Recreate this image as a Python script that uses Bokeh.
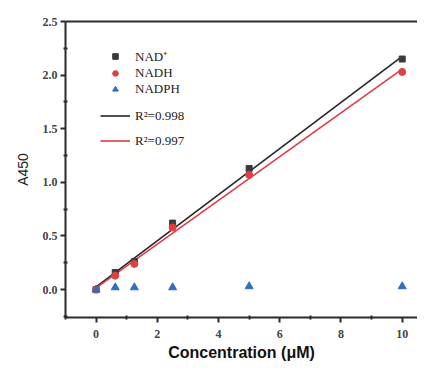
import numpy as np
from bokeh.plotting import figure
from bokeh.models import Range1d, LinearAxis, Legend, LegendItem, FixedTicker
from bokeh.embed import file_html
from bokeh.resources import INLINE

conc = [0, 0.625, 1.25, 2.5, 5, 10]
nad_plus = [0.0, 0.16, 0.26, 0.62, 1.13, 2.15]
nadh = [0.0, 0.13, 0.24, 0.58, 1.07, 2.03]
nadph = [0.0, 0.02, 0.02, 0.02, 0.03, 0.03]
labels = ["NAD⁺", "NADH", "NADPH", "R²=0.998", "R²=0.997"]
x_ticks = [0, 2, 4, 6, 8, 10]
y_ticks = [0.0, 0.5, 1.0, 1.5, 2.0, 2.5]

SERIF = "Liberation Serif"
SANS = "Liberation Sans"
AX = "#2b2b2b"

p = figure(width=417, height=363, output_backend="svg", toolbar_location=None,
           x_range=Range1d(-1.0, 10.5), y_range=Range1d(-0.26, 2.5),
           min_border_left=65, min_border_right=0, min_border_top=21, min_border_bottom=45)
p.background_fill_color = "white"
p.border_fill_color = "white"
p.outline_line_color = None
p.grid.visible = False

# linear fits
k1, b1 = np.polyfit(conc, nad_plus, 1)
k2, b2 = np.polyfit(conc, nadh, 1)
xf = np.array([conc[0], conc[-1]])

l1 = p.line(xf, k1 * xf + b1, line_color="#262626", line_width=1.6)
l2 = p.line(xf, k2 * xf + b2, line_color="#e23a48", line_width=1.6)

s1 = p.scatter(conc, nad_plus, marker="square", size=6, fill_color="#3a3a3a", line_color="#3a3a3a")
s2 = p.scatter(conc, nadh, marker="circle", size=7, fill_color="#e0403f", line_color="#e0403f")
s3 = p.scatter(conc, nadph, marker="triangle", size=8, fill_color="#2f6fc0", line_color="#2f6fc0")

for ax, ticks in ((p.xaxis[0], x_ticks), (p.yaxis[0], y_ticks)):
    step = ticks[1] - ticks[0]
    ax.ticker = FixedTicker(ticks=ticks, minor_ticks=[t + step / 2 for t in [ticks[0] - step] + ticks])
    ax.axis_line_width = 2
    ax.axis_line_color = AX
    ax.major_tick_line_color = AX
    ax.major_tick_line_width = 2
    ax.minor_tick_line_color = AX
    ax.minor_tick_line_width = 2
    ax.major_tick_out = 5
    ax.major_tick_in = 0
    ax.minor_tick_out = 2
    ax.minor_tick_in = 2
    ax.major_label_text_font = SERIF
    ax.major_label_text_font_size = "12px"
    ax.major_label_text_font_style = "bold"
    ax.major_label_text_color = "#444444"

p.yaxis[0].major_label_overrides = {t: f"{t:.1f}" for t in y_ticks}
p.xaxis[0].major_label_standoff = 7
p.yaxis[0].major_label_standoff = 3

p.xaxis[0].axis_label = "Concentration (μM)"
p.xaxis[0].axis_label_text_font = SANS
p.xaxis[0].axis_label_text_font_style = "bold"
p.xaxis[0].axis_label_text_font_size = "16px"
p.xaxis[0].axis_label_text_color = "#111111"
p.xaxis[0].axis_label_standoff = 3

p.yaxis[0].axis_label = "A450"
p.yaxis[0].axis_label_text_font = SANS
p.yaxis[0].axis_label_text_font_style = "normal"
p.yaxis[0].axis_label_text_font_size = "14px"
p.yaxis[0].axis_label_text_color = "#222222"
p.yaxis[0].axis_label_standoff = 9

top = LinearAxis(major_tick_line_color=None, minor_tick_line_color=None,
                 major_label_text_font_size="0px", axis_line_width=2, axis_line_color=AX)
top.major_label_text_color = None
p.add_layout(top, "above")

def style(lg, row_h):
    lg.background_fill_alpha = 0
    lg.border_line_color = None
    lg.label_text_font = SERIF
    lg.label_text_font_size = "13px"
    lg.label_text_color = "#222222"
    lg.glyph_width = 30
    lg.glyph_height = row_h
    lg.label_height = row_h
    lg.label_standoff = 5
    lg.spacing = 0
    lg.padding = 0
    lg.margin = 0

legend_a = Legend(items=[
    LegendItem(label=labels[0], renderers=[s1]),
    LegendItem(label=labels[1], renderers=[s2]),
    LegendItem(label=labels[2], renderers=[s3]),
], location=(35, 220))
style(legend_a, 14)
legend_b = Legend(items=[
    LegendItem(label=labels[3], renderers=[l1]),
    LegendItem(label=labels[4], renderers=[l2]),
], location=(35, 164))
style(legend_b, 25)
p.add_layout(legend_a, "center")
p.add_layout(legend_b, "center")

open("out.html", "w").write(file_html(p, INLINE))
